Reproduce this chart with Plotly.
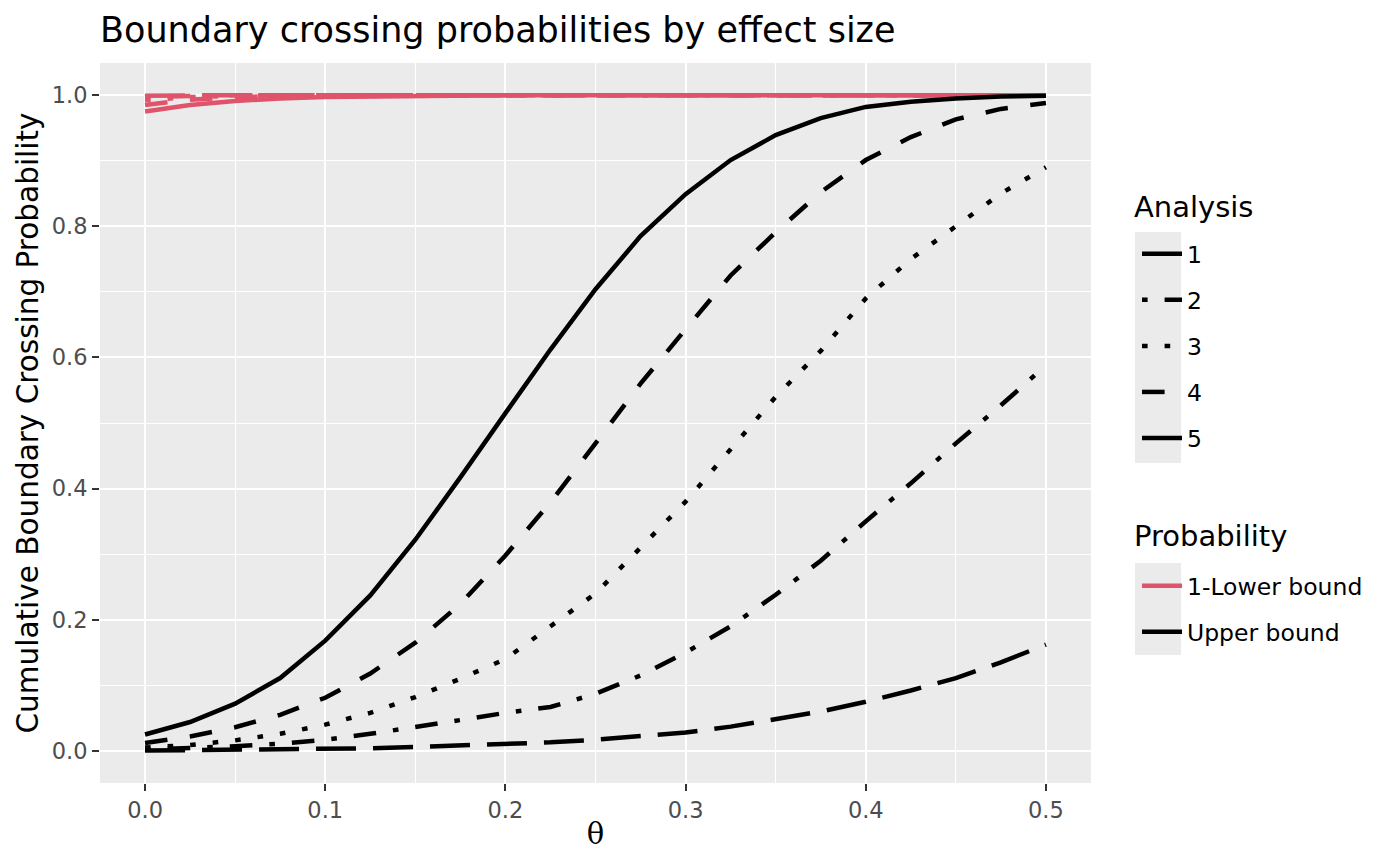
import plotly.graph_objects as go

theta = [0.0, 0.025, 0.05, 0.075, 0.1, 0.125, 0.15, 0.175, 0.2, 0.225, 0.25,
         0.275, 0.3, 0.325, 0.35, 0.375, 0.4, 0.425, 0.45, 0.475, 0.5]

# upper bound, cumulative crossing probability by analysis
upper_1 = [0.0005, 0.001, 0.002, 0.002, 0.003, 0.004, 0.006, 0.008, 0.010, 0.013, 0.017,
           0.022, 0.028, 0.037, 0.048, 0.060, 0.075, 0.092, 0.111, 0.135, 0.162]
upper_2 = [0.002, 0.004, 0.007, 0.011, 0.017, 0.026, 0.036, 0.047, 0.058, 0.067, 0.087,
           0.115, 0.150, 0.190, 0.238, 0.290, 0.350, 0.408, 0.469, 0.527, 0.588]
upper_3 = [0.005, 0.009, 0.016, 0.026, 0.040, 0.058, 0.082, 0.110, 0.140, 0.190, 0.240,
           0.310, 0.380, 0.460, 0.540, 0.610, 0.690, 0.750, 0.800, 0.850, 0.890]
upper_4 = [0.012, 0.022, 0.036, 0.055, 0.081, 0.118, 0.165, 0.224, 0.298, 0.379, 0.469,
           0.560, 0.643, 0.725, 0.791, 0.852, 0.901, 0.936, 0.963, 0.979, 0.988]
upper_5 = [0.025, 0.044, 0.072, 0.111, 0.168, 0.237, 0.322, 0.417, 0.515, 0.612, 0.704,
           0.785, 0.849, 0.901, 0.939, 0.965, 0.982, 0.990, 0.995, 0.998, 0.999]

# 1 - lower bound cumulative crossing probability by analysis
lower_1 = [0.999, 1.0, 1.0, 1.0, 1.0, 1.0, 1.0, 1.0, 1.0, 1.0, 1.0,
           1.0, 1.0, 1.0, 1.0, 1.0, 1.0, 1.0, 1.0, 1.0, 1.0]
lower_2 = [0.997, 0.999, 1.0, 1.0, 1.0, 1.0, 1.0, 1.0, 1.0, 1.0, 1.0,
           1.0, 1.0, 1.0, 1.0, 1.0, 1.0, 1.0, 1.0, 1.0, 1.0]
lower_3 = [0.992, 0.997, 0.999, 1.0, 1.0, 1.0, 1.0, 1.0, 1.0, 1.0, 1.0,
           1.0, 1.0, 1.0, 1.0, 1.0, 1.0, 1.0, 1.0, 1.0, 1.0]
lower_4 = [0.985, 0.993, 0.997, 0.999, 1.0, 1.0, 1.0, 1.0, 1.0, 1.0, 1.0,
           1.0, 1.0, 1.0, 1.0, 1.0, 1.0, 1.0, 1.0, 1.0, 1.0]
lower_5 = [0.975, 0.985, 0.991, 0.995, 0.997, 0.998, 0.999, 0.999, 1.0, 1.0, 1.0,
           1.0, 1.0, 1.0, 1.0, 1.0, 1.0, 1.0, 1.0, 1.0, 1.0]

analyses = ["1", "2", "3", "4", "5"]
upper = [upper_1, upper_2, upper_3, upper_4, upper_5]
lower = [lower_1, lower_2, lower_3, lower_4, lower_5]

# R linetypes: longdash, dotdash, dotted, dashed, solid
dashes = ["40px,17px", "5.6px,17px,22.6px,17px", "5.6px,17px", "22.6px,22.6px", "solid"]

RED = "#DF536B"
LW = 4.5
FONT = "DejaVu Sans"

fig = go.Figure()

for a, ys, d in zip(analyses, lower, dashes):
    fig.add_trace(go.Scatter(x=theta, y=ys, mode="lines", showlegend=False,
                             line=dict(color=RED, width=LW, dash=d)))
for a, ys, d in zip(analyses, upper, dashes):
    fig.add_trace(go.Scatter(x=theta, y=ys, mode="lines", showlegend=False,
                             line=dict(color="black", width=LW, dash=d)))

# legend entries
for a, d in zip(analyses, dashes):
    fig.add_trace(go.Scatter(x=[None], y=[None], mode="lines", name=a, legend="legend",
                             legendgroup="a" + a,
                             line=dict(color="black", width=LW, dash=d)))
for name, col in [("1-Lower bound", RED), ("Upper bound", "black")]:
    fig.add_trace(go.Scatter(x=[None], y=[None], mode="lines", name=name, legend="legend2",
                             legendgroup=name,
                             line=dict(color=col, width=LW)))

# grey key backgrounds like ggplot legend keys
shapes = [
    dict(type="rect", xref="paper", yref="paper", x0=1.0444, x1=1.0908,
         y0=(783 - 463) / 720, y1=(783 - 232) / 720,
         fillcolor="#EBEBEB", line=dict(width=0), layer="below"),
    dict(type="rect", xref="paper", yref="paper", x0=1.0444, x1=1.0908,
         y0=(783 - 655) / 720, y1=(783 - 563) / 720,
         fillcolor="#EBEBEB", line=dict(width=0), layer="below"),
]

legend_common = dict(
    xanchor="left", yanchor="top", x=(1137 - 100) / 991,
    bgcolor="rgba(0,0,0,0)", font=dict(family=FONT, size=23.5, color="black"),
    tracegroupgap=12.5, itemwidth=40,
)

annotations = [
    dict(text="Analysis", xref="paper", yref="paper", x=(1132 - 100) / 991,
         y=(783 - 207) / 720, xanchor="left", yanchor="middle", showarrow=False,
         font=dict(family=FONT, size=29, color="black")),
    dict(text="Probability", xref="paper", yref="paper", x=(1132 - 100) / 991,
         y=(783 - 536) / 720, xanchor="left", yanchor="middle", showarrow=False,
         font=dict(family=FONT, size=29, color="black")),
]

fig.update_layout(
    width=1400, height=866,
    margin=dict(l=100, r=309, t=63, b=83),
    paper_bgcolor="white", plot_bgcolor="#EBEBEB",
    font=dict(family=FONT, color="black"),
    title=dict(text="Boundary crossing probabilities by effect size",
               x=100 / 1400, xanchor="left", y=1 - 30 / 866, yanchor="middle",
               font=dict(family=FONT, size=35, color="black")),
    xaxis=dict(range=[-0.025, 0.525], tickvals=[0, 0.1, 0.2, 0.3, 0.4, 0.5],
               ticktext=["0.0", "0.1", "0.2", "0.3", "0.4", "0.5"],
               showgrid=True, gridcolor="white", gridwidth=2.4,
               minor=dict(tickvals=[0.05, 0.15, 0.25, 0.35, 0.45], showgrid=True,
                          gridcolor="white", gridwidth=1.2, ticklen=0),
               ticks="outside", ticklen=7, tickwidth=2, tickcolor="#333333",
               tickfont=dict(family=FONT, size=22.5, color="#4D4D4D"),
               zeroline=False, showline=False,
               title=dict(text="θ", font=dict(family="DejaVu Serif", size=29, color="black"),
                          standoff=1)),
    yaxis=dict(range=[-0.049, 1.049], tickvals=[0, 0.2, 0.4, 0.6, 0.8, 1.0],
               ticktext=["0.0", "0.2", "0.4", "0.6", "0.8", "1.0"],
               showgrid=True, gridcolor="white", gridwidth=2.4,
               minor=dict(tickvals=[0.1, 0.3, 0.5, 0.7, 0.9], showgrid=True,
                          gridcolor="white", gridwidth=1.2, ticklen=0),
               ticks="outside", ticklen=7, tickwidth=2, tickcolor="#333333",
               tickfont=dict(family=FONT, size=22.5, color="#4D4D4D"),
               zeroline=False, showline=False,
               title=dict(text="Cumulative Boundary Crossing Probability",
                          font=dict(family=FONT, size=29.5, color="black"), standoff=4)),
    legend=dict(y=(783 - 232) / 720, **legend_common),
    legend2=dict(y=(783 - 564) / 720, **legend_common),
    shapes=shapes,
    annotations=annotations,
)

fig.write_html("out.html", config={"displayModeBar": False},
               post_script="document.body.style.margin='0px';")
